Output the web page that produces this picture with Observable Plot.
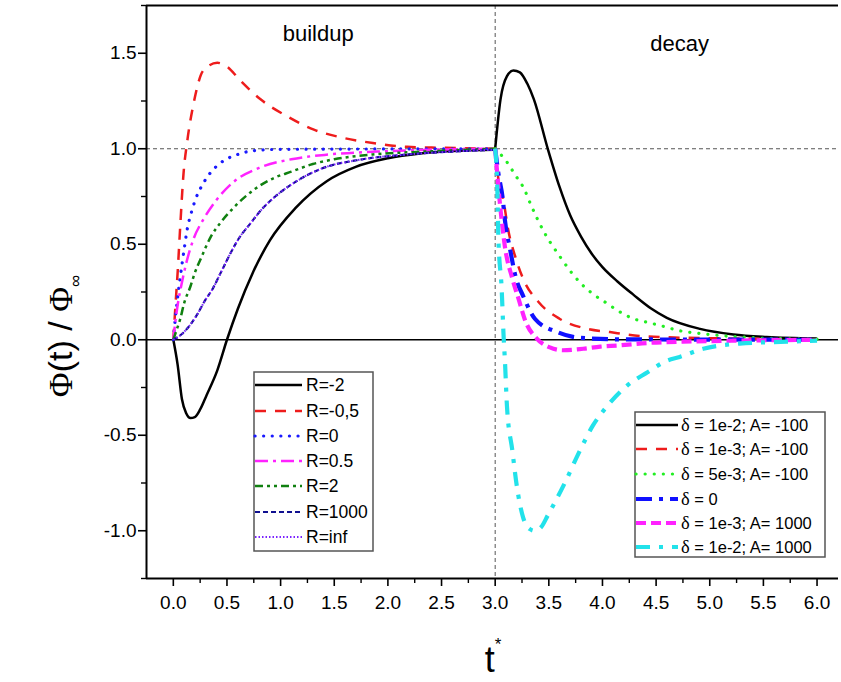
<!DOCTYPE html>
<html><head><meta charset="utf-8">
<script src="https://cdn.jsdelivr.net/npm/d3@7"></script>
<script src="https://cdn.jsdelivr.net/npm/@observablehq/plot@0.6"></script>
<style>body{margin:0;background:#fff;} #chart{width:841px;height:682px;}</style>
</head><body><div id="chart"></div>
<script>
// ---- data: [t*, Phi/Phi_inf] ----
// buildup (0..3)
const R_m2 = [[0,0],[0.04,-0.13],[0.08,-0.31],[0.12,-0.385],[0.16,-0.41],[0.2,-0.405],[0.25,-0.365],[0.31,-0.29],[0.41,-0.16],[0.5,0],[0.6,0.16],[0.74,0.35],[0.9,0.52],[1.14,0.69],[1.43,0.83],[1.7,0.905],[2.0,0.95],[2.3,0.975],[2.6,0.988],[3.0,0.995]];
const R_m05 = [[0,0],[0.01,0.09],[0.02,0.18],[0.04,0.35],[0.065,0.6],[0.095,0.87],[0.13,1.04],[0.19,1.24],[0.28,1.41],[0.41,1.45],[0.5,1.43],[0.62,1.36],[0.81,1.26],[1.06,1.17],[1.31,1.10],[1.56,1.06],[1.86,1.03],[2.18,1.01],[2.5,1.005],[3.0,1.0]];
const R_0 = [[0,0],[0.02,0.12],[0.04,0.22],[0.065,0.33],[0.1,0.47],[0.13,0.58],[0.17,0.67],[0.21,0.74],[0.27,0.81],[0.34,0.87],[0.45,0.93],[0.6,0.97],[0.75,0.99],[1.0,0.997],[3.0,1.0]];
const R_05 = [[0,0],[0.02,0.1],[0.04,0.18],[0.08,0.3],[0.12,0.4],[0.19,0.53],[0.28,0.63],[0.4,0.73],[0.57,0.83],[0.8,0.9],[1.1,0.945],[1.45,0.97],[1.9,0.985],[2.4,0.995],[3.0,1.0]];
const R_2 = [[0,0],[0.03,0.05],[0.065,0.11],[0.1,0.19],[0.16,0.28],[0.2,0.35],[0.26,0.43],[0.35,0.54],[0.45,0.62],[0.56,0.69],[0.75,0.785],[0.95,0.85],[1.1,0.88],[1.3,0.92],[1.5,0.945],[1.86,0.97],[2.33,0.985],[3.0,1.0]];
const R_1000 = [[0,0],[0.08,0.03],[0.16,0.08],[0.22,0.13],[0.29,0.2],[0.37,0.27],[0.45,0.36],[0.53,0.45],[0.61,0.53],[0.72,0.61],[0.82,0.68],[0.95,0.75],[1.12,0.82],[1.4,0.9],[1.71,0.94],[2.18,0.97],[2.6,0.985],[3.0,0.995]];
const R_inf = [[0,0],[0.08,0.03],[0.16,0.08],[0.22,0.13],[0.29,0.2],[0.37,0.27],[0.45,0.36],[0.53,0.45],[0.61,0.53],[0.72,0.61],[0.82,0.68],[0.95,0.75],[1.12,0.82],[1.4,0.9],[1.71,0.94],[2.18,0.97],[2.6,0.985],[3.0,0.995]];
// decay (3..6)
const D_1e2_m100 = [[3,1],[3.05,1.26],[3.11,1.38],[3.17,1.41],[3.23,1.40],[3.3,1.34],[3.36,1.26],[3.49,1.0],[3.6,0.8],[3.7,0.65],[3.8,0.54],[3.9,0.45],[4.0,0.38],[4.14,0.305],[4.29,0.235],[4.45,0.165],[4.6,0.115],[4.91,0.057],[5.22,0.028],[5.53,0.015],[6.0,0.007]];
const D_1e3_m100 = [[3,1],[3.03,0.84],[3.08,0.72],[3.12,0.58],[3.19,0.43],[3.26,0.32],[3.4,0.2],[3.6,0.11],[3.86,0.057],[4.07,0.04],[4.35,0.02],[4.8,0.01],[5.5,0.005],[6.0,0.0]];
const D_5e3_m100 = [[3,1],[3.11,0.93],[3.19,0.86],[3.27,0.79],[3.33,0.71],[3.45,0.57],[3.61,0.43],[3.7,0.36],[3.79,0.3],[3.91,0.24],[4.03,0.195],[4.15,0.15],[4.29,0.11],[4.43,0.09],[4.57,0.07],[4.72,0.047],[4.86,0.036],[5.14,0.02],[5.45,0.01],[6.0,0.003]];
const D_0 = [[3,1],[3.03,0.87],[3.07,0.74],[3.09,0.63],[3.14,0.47],[3.19,0.33],[3.26,0.23],[3.37,0.11],[3.58,0.04],[3.79,0.01],[4.2,0.002],[6.0,0.0]];
const D_1e3_1000 = [[3,1],[3.05,0.68],[3.09,0.49],[3.16,0.32],[3.22,0.21],[3.28,0.1],[3.39,0.005],[3.51,-0.04],[3.63,-0.055],[3.82,-0.047],[3.98,-0.036],[4.14,-0.03],[4.45,-0.016],[4.75,-0.01],[5.22,-0.005],[6.0,0.0]];
const D_1e2_1000 = [[3,1],[3.02,0.79],[3.03,0.53],[3.06,0.27],[3.08,0.0],[3.09,-0.1],[3.11,-0.35],[3.16,-0.58],[3.2,-0.76],[3.26,-0.93],[3.32,-0.99],[3.37,-1.0],[3.43,-0.98],[3.49,-0.92],[3.64,-0.76],[3.79,-0.58],[3.91,-0.45],[4.04,-0.35],[4.23,-0.24],[4.42,-0.17],[4.6,-0.11],[4.72,-0.09],[4.94,-0.047],[5.28,-0.02],[5.72,-0.01],[6.0,-0.005]];

const xMajorTicks = [0,0.5,1,1.5,2,2.5,3,3.5,4,4.5,5,5.5,6];
const xMinorTicks = [0.25,0.75,1.25,1.75,2.25,2.75,3.25,3.75,4.25,4.75,5.25,5.75];
const yMajorTicks = [-1,-0.5,0,0.5,1,1.5];
const yMinorTicks = [-1.25,-0.75,-0.25,0.25,0.75,1.25,1.75];
const buildupLabels = ["R=-2","R=-0,5","R=0","R=0.5","R=2","R=1000","R=inf"];
const decayLabels = [["δ"," = 1e-2; A= -100"],["δ"," = 1e-3; A= -100"],["δ"," = 5e-3; A= -100"],["δ"," = 0"],["δ"," = 1e-3; A= 1000"],["δ"," = 1e-2; A= 1000"]];
const phaseLabels = [{t:1.35,v:1.6,text:"buildup"},{t:4.72,v:1.55,text:"decay"}];

// ---- styles ----
const buildupStyles = [
  {data:R_m2,  stroke:"#000000", w:2.5, dash:null, cap:"butt"},
  {data:R_m05, stroke:"#ee1c1c", w:2.5, dash:"11,9", cap:"butt"},
  {data:R_0,   stroke:"#1a1aff", w:3.2, dash:"0.1,8.5", cap:"round"},
  {data:R_05,  stroke:"#ff22ff", w:2.5, dash:"13,5,3,5", cap:"butt"},
  {data:R_2,   stroke:"#108010", w:2.5, dash:"8,4,3,4,3,4", cap:"butt"},
  {data:R_1000,stroke:"#101090", w:2.2, dash:"5,3", cap:"butt"},
  {data:R_inf, stroke:"#7a22ff", w:2.0, dash:"1.5,2", cap:"butt"}
];
const decayStyles = [
  {data:D_1e2_m100, stroke:"#000000", w:2.5, dash:null, cap:"butt"},
  {data:D_1e3_m100, stroke:"#ee1c1c", w:2.5, dash:"11,9", cap:"butt"},
  {data:D_5e3_m100, stroke:"#22ee22", w:3.2, dash:"0.1,9", cap:"round"},
  {data:D_0,        stroke:"#1010ff", w:4.2, dash:"16,7,4,7", cap:"butt"},
  {data:D_1e3_1000, stroke:"#ff22ff", w:4.2, dash:"10,5", cap:"butt"},
  {data:D_1e2_1000, stroke:"#22e2ea", w:4.2, dash:"14,9,4,9", cap:"butt"}
];

const font = "'Liberation Sans', Arial, sans-serif";
const serif = "'Liberation Serif', 'Times New Roman', serif";
const lineMark = s => Plot.line(s.data, {x: d => d[0], y: d => d[1], stroke: s.stroke, strokeWidth: s.w,
  strokeDasharray: s.dash || undefined, strokeLinecap: s.cap, curve: "monotone-x"});

const chart = Plot.plot({
  width: 841, height: 682,
  marginLeft: 146, marginRight: 3, marginTop: 5, marginBottom: 104,
  style: {fontFamily: font, fontSize: "19px", background: "#fff", color: "#000"},
  x: {domain: [-0.25, 6.2]},
  y: {domain: [-1.25, 1.75]},
  marks: [
    Plot.ruleY([1], {stroke: "#555", strokeWidth: 1, strokeDasharray: "4,3"}),
    Plot.ruleX([3], {stroke: "#555", strokeWidth: 1, strokeDasharray: "4,3"}),
    Plot.ruleY([0], {stroke: "#000", strokeWidth: 1.6}),
    ...buildupStyles.map(lineMark),
    ...decayStyles.map(lineMark),
    Plot.text(phaseLabels, {x: "t", y: "v", text: "text", fontSize: 22, fill: "#000"}),
    Plot.ruleX([-0.25], {stroke: "#000", strokeWidth: 2}),
    Plot.ruleY([-1.25], {stroke: "#000", strokeWidth: 2}),
    Plot.ruleY([1.75], {stroke: "#000", strokeWidth: 2}),
    Plot.axisX(xMajorTicks, {tickSize: 8, tickPadding: 9, strokeWidth: 1.6, tickFormat: d => d.toFixed(1), label: null, fontSize: 19}),
    Plot.axisX(xMinorTicks, {tickSize: 5, strokeWidth: 1.4, tickFormat: () => "", label: null}),
    Plot.axisY(yMajorTicks, {tickSize: 8, tickPadding: 2, strokeWidth: 1.6, tickFormat: d => d.toFixed(1), label: null, fontSize: 19}),
    Plot.axisY(yMinorTicks, {tickSize: 5, strokeWidth: 1.4, tickFormat: () => "", label: null})
  ]
});
document.getElementById("chart").appendChild(chart);

const svg = d3.select(chart);
// axis titles
const yt = svg.append("text").attr("transform", "translate(72,336) rotate(-90)")
  .attr("text-anchor", "middle").style("font-family", font).style("font-size", "34px").attr("fill", "#000");
yt.append("tspan").text("Φ").style("font-family", serif);
yt.append("tspan").text("(t) / ");
yt.append("tspan").text("Φ").style("font-family", serif);
yt.append("tspan").text("∞").attr("dy", 9).style("font-size", "17px");
const xt = svg.append("text").attr("x", 493).attr("y", 672).attr("text-anchor", "middle")
  .style("font-family", font).style("font-size", "36px").attr("fill", "#000");
xt.append("tspan").text("t");
xt.append("tspan").text("*").attr("dy", -22).style("font-size", "17px");

// legends
function legend(x, y, w, h, rowY, sx0, sx1, tx, fs, labels, styles) {
  const g = svg.append("g");
  g.append("rect").attr("x", x).attr("y", y).attr("width", w).attr("height", h)
    .attr("fill", "#fff").attr("stroke", "#555").attr("stroke-width", 1.5);
  labels.forEach((lab, i) => {
    const s = styles[i], cy = rowY[i];
    g.append("line").attr("x1", sx0).attr("x2", sx1).attr("y1", cy).attr("y2", cy)
      .attr("stroke", s.stroke).attr("stroke-width", s.w)
      .attr("stroke-dasharray", s.dash).attr("stroke-linecap", s.cap);
    const t = g.append("text").attr("x", tx).attr("y", cy).attr("dy", "0.35em")
      .attr("text-anchor", "start")
      .style("font-family", font).style("font-size", fs + "px").attr("fill", "#000");
    if (Array.isArray(lab)) {
      t.append("tspan").text(lab[0]).style("font-family", serif).style("font-size", (fs + 2) + "px");
      t.append("tspan").text(lab[1]);
    } else t.text(lab);
  });
}
legend(254, 372, 119, 179, [385,411,436,461,486,512,537], 255, 302, 306, 17.5, buildupLabels, buildupStyles);
legend(635, 412, 190, 145, [425,449,474,499,523,547], 636, 678, 681, 16.5, decayLabels, decayStyles);
</script></body></html>
